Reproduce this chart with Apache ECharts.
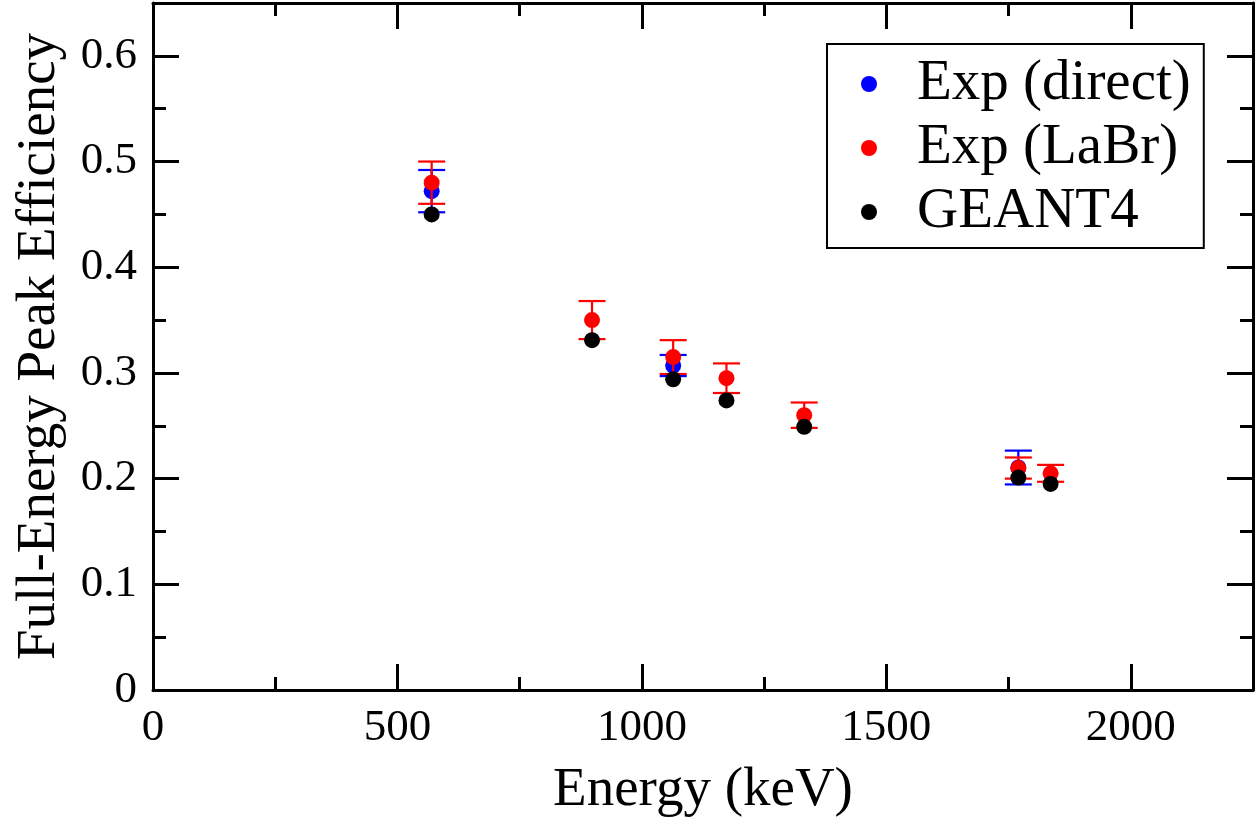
<!DOCTYPE html>
<html>
<head>
<meta charset="utf-8">
<script src="https://cdn.jsdelivr.net/npm/echarts@6/dist/echarts.min.js"></script>
<style>
  html, body { margin: 0; padding: 0; background: #fff; }
  #chart { width: 1257px; height: 820px; }
</style>
</head>
<body>
<div id="chart"></div>
<script>
  // gamma-ray energies (keV)
  var energies = [570, 898, 1064, 1173, 1332, 1770, 1836];

  // Exp (direct) only measured at three energies
  var directEnergies = [570, 1064, 1770];
  var directEff = [0.472, 0.307, 0.2105];
  var directErr = [0.020, 0.010, 0.016];

  // Exp (LaBr)
  var labrEff = [0.480, 0.350, 0.315, 0.295, 0.260, 0.210, 0.205];
  var labrErr = [0.020, 0.018, 0.016, 0.014, 0.012, 0.010, 0.008];

  // GEANT4 simulation
  var geantEff = [0.450, 0.331, 0.294, 0.274, 0.249, 0.201, 0.195];

  var xMax = 2250, xStep = 500, xMinor = 250;
  var yMax = 0.65, yStep = 0.1, yMinor = 0.05;

  var font = '"Liberation Serif", "Times New Roman", serif';

  function points(xs, ys) {
    return xs.map(function (x, i) { return [x, ys[i]]; });
  }
  function bars(xs, ys, es) {
    return xs.map(function (x, i) { return [x, ys[i] - es[i], ys[i] + es[i]]; });
  }

  function errorBars(color) {
    return function (params, api) {
      var x = api.value(0);
      var lo = api.coord([x, api.value(1)]);
      var hi = api.coord([x, api.value(2)]);
      var half = 13.5;
      var style = { stroke: color, lineWidth: 2.2 };
      return {
        type: 'group',
        children: [
          { type: 'line', shape: { x1: lo[0], y1: lo[1], x2: hi[0], y2: hi[1] }, style: style },
          { type: 'line', shape: { x1: lo[0] - half, y1: lo[1], x2: lo[0] + half, y2: lo[1] }, style: style },
          { type: 'line', shape: { x1: hi[0] - half, y1: hi[1], x2: hi[0] + half, y2: hi[1] }, style: style }
        ]
      };
    };
  }

  var lineStyle = { color: '#000', width: 3 };

  // withLabels: true = labels + line, false = line only, null = ticks only
  function xAxisDef(pos, step, tickLen, withLabels) {
    return {
      type: 'value', position: pos, min: 0, max: xMax, interval: step,
      axisLine: { show: withLabels !== null, onZero: false, lineStyle: lineStyle },
      axisTick: { show: true, inside: true, length: tickLen, lineStyle: { color: '#000', width: 3 } },
      axisLabel: withLabels ? {
        show: true, margin: 16, showMaxLabel: false, color: '#000',
        fontFamily: font, fontSize: 45,
        formatter: function (v) { return String(v); }
      } : { show: false },
      splitLine: { show: false }
    };
  }
  function yAxisDef(pos, step, tickLen, withLabels) {
    return {
      type: 'value', position: pos, min: 0, max: yMax, interval: step,
      axisLine: { show: withLabels !== null, onZero: false, lineStyle: lineStyle },
      axisTick: { show: true, inside: true, length: tickLen, lineStyle: { color: '#000', width: 3 } },
      axisLabel: withLabels ? {
        show: true, margin: 16, showMaxLabel: false, color: '#000',
        fontFamily: font, fontSize: 45,
        formatter: function (v) { return v === 0 ? '0' : v.toFixed(1); }
      } : { show: false },
      splitLine: { show: false }
    };
  }

  var xMain = xAxisDef('bottom', xStep, 26, true);
  xMain.name = 'Energy (keV)';
  xMain.nameLocation = 'middle';
  xMain.nameGap = 73;
  xMain.nameTextStyle = { fontFamily: font, fontSize: 55, color: '#000' };

  var yMain = yAxisDef('left', yStep, 26, true);
  yMain.name = 'Full-Energy Peak Efficiency';
  yMain.nameLocation = 'middle';
  yMain.nameGap = 86;
  yMain.nameTextStyle = { fontFamily: font, fontSize: 55, color: '#000' };

  var myCharts = echarts.init(document.getElementById('chart'));
  var option = {
    animation: false,
    backgroundColor: '#fff',
    grid: { left: 153, right: 4, top: 3, bottom: 130, containLabel: false, outerBoundsMode: 'none' },
    xAxis: [
      xMain,
      xAxisDef('bottom', xMinor, 13, null),
      xAxisDef('top', xStep, 26, false),
      xAxisDef('top', xMinor, 13, null)
    ],
    yAxis: [
      yMain,
      yAxisDef('left', yMinor, 13, null),
      yAxisDef('right', yStep, 26, false),
      yAxisDef('right', yMinor, 13, null)
    ],
    legend: {
      data: [
        { name: 'Exp (direct)', icon: 'circle' },
        { name: 'Exp (LaBr)', icon: 'circle' },
        { name: 'GEANT4', icon: 'circle' }
      ],
      orient: 'vertical',
      left: 827, top: 44,
      padding: [11, 13, 7, 34],
      itemGap: 6,
      itemWidth: 16, itemHeight: 16,
      borderColor: '#000', borderWidth: 2, borderRadius: 0,
      backgroundColor: '#fff',
      textStyle: { fontFamily: font, fontSize: 57, lineHeight: 58, color: '#000', padding: [0, 0, 0, 35] }
    },
    series: [
      {
        name: 'direct-err', type: 'custom', z: 2,
        renderItem: errorBars('#0000ff'),
        encode: { x: 0, y: [1, 2] },
        data: bars(directEnergies, directEff, directErr)
      },
      {
        name: 'Exp (direct)', type: 'scatter', z: 3,
        symbol: 'circle', symbolSize: 16,
        itemStyle: { color: '#0000ff', opacity: 1 },
        data: points(directEnergies, directEff)
      },
      {
        name: 'labr-err', type: 'custom', z: 4,
        renderItem: errorBars('#ff0000'),
        encode: { x: 0, y: [1, 2] },
        data: bars(energies, labrEff, labrErr)
      },
      {
        name: 'Exp (LaBr)', type: 'scatter', z: 5,
        symbol: 'circle', symbolSize: 16,
        itemStyle: { color: '#ff0000', opacity: 1 },
        data: points(energies, labrEff)
      },
      {
        name: 'GEANT4', type: 'scatter', z: 6,
        symbol: 'circle', symbolSize: 16,
        itemStyle: { color: '#000000', opacity: 1 },
        data: points(energies, geantEff)
      }
    ]
  };
  myCharts.setOption(option);
</script>
</body>
</html>
